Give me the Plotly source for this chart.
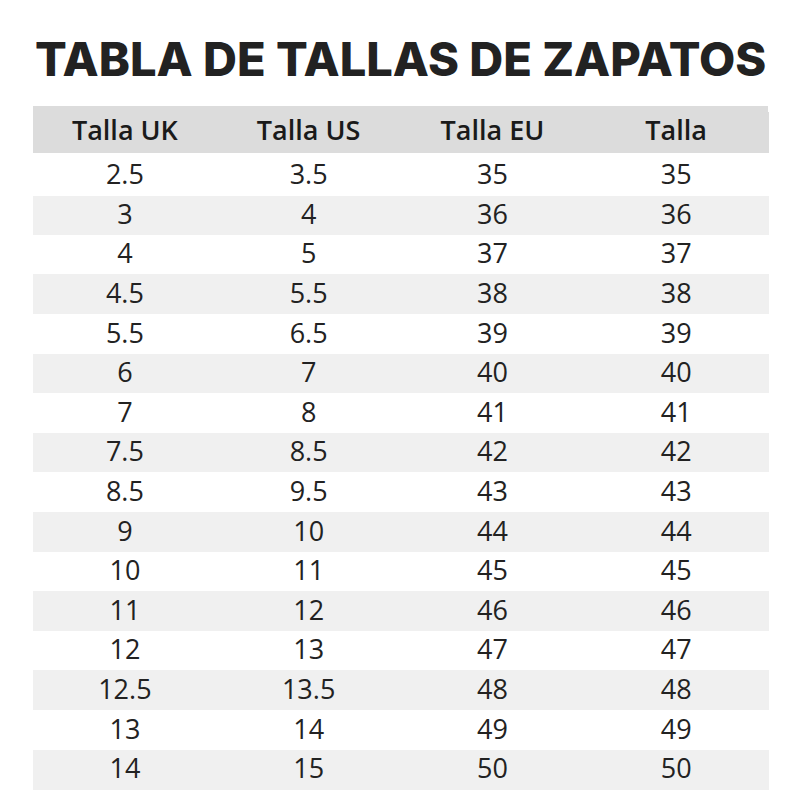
import plotly.graph_objects as go

headers = ["Talla UK", "Talla US", "Talla EU", "Talla"]
uk = ["2.5", "3", "4", "4.5", "5.5", "6", "7", "7.5", "8.5", "9", "10", "11", "12", "12.5", "13", "14"]
us = ["3.5", "4", "5", "5.5", "6.5", "7", "8", "8.5", "9.5", "10", "11", "12", "13", "13.5", "14", "15"]
eu = ["35", "36", "37", "38", "39", "40", "41", "42", "43", "44", "45", "46", "47", "48", "49", "50"]
talla = ["35", "36", "37", "38", "39", "40", "41", "42", "43", "44", "45", "46", "47", "48", "49", "50"]

title = "TABLA DE TALLAS DE ZAPATOS"

header_color = "#dcdcdc"
row_colors = ["#ffffff" if i % 2 == 0 else "#f0f0f0" for i in range(len(uk))]
columns = [uk, us, eu, talla]

# page body has an 8px margin, so figure coordinates are offset by 8px
OFF = 8
W = 800.0

def px(x):
    return (x - OFF) / W

def py(y):
    return 1 - (y - OFF) / W

body_font = dict(family="Open Sans", size=27, color="#222222")
ROW_H = 39.6

fig = go.Figure()

# header row
fig.add_trace(go.Table(
    domain=dict(x=[px(33), px(768)], y=[py(160), py(112)]),
    columnwidth=[1, 1, 1, 1],
    header=dict(
        values=headers,
        fill_color=header_color,
        line=dict(color=header_color, width=1),
        align="center",
        height=40,
        font=dict(family="Open Sans", size=27, color="#1a1a1a", weight=600),
    ),
    cells=dict(values=[[], [], [], []], height=1),
))

# body rows (first data row carried by the trace's header slot)
fig.add_trace(go.Table(
    domain=dict(x=[px(33), px(768)], y=[py(800), py(156)]),
    columnwidth=[1, 1, 1, 1],
    header=dict(
        values=[c[0] for c in columns],
        fill_color=row_colors[0],
        line=dict(color=row_colors[0], width=1),
        align="center",
        height=ROW_H,
        font=body_font,
    ),
    cells=dict(
        values=[c[1:] for c in columns],
        fill_color=[row_colors[1:]] * 4,
        line=dict(color=[row_colors[1:]] * 4, width=1),
        align="center",
        height=ROW_H,
        font=body_font,
    ),
))

# top part of the header band
fig.add_shape(type="rect", xref="paper", yref="paper",
              x0=px(33), x1=px(768), y0=py(112.5), y1=py(106),
              fillcolor=header_color, line=dict(width=0))

fig.add_annotation(
    text=title, x=px(400), y=py(58), xref="paper", yref="paper",
    showarrow=False, xanchor="center", yanchor="middle",
    font=dict(family="Inter", size=47, color="#222222", weight=800),
)

fig.update_layout(
    width=800, height=800, margin=dict(l=0, r=0, t=0, b=0),
    paper_bgcolor="white", plot_bgcolor="white",
)

fig.write_html("out.html")
